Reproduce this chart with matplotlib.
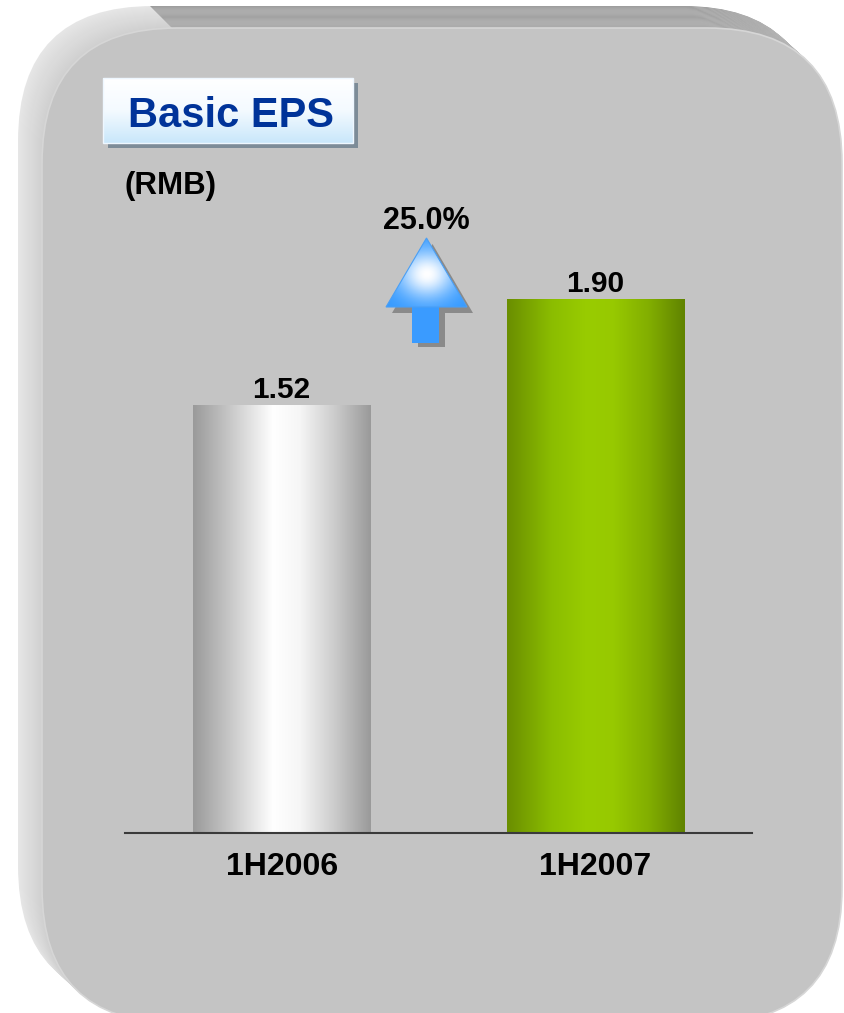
import numpy as np
import matplotlib
matplotlib.use("Agg")
import matplotlib.pyplot as plt
import matplotlib.colors as mcolors
from matplotlib.patches import FancyBboxPatch, Polygon, Rectangle
from matplotlib.colors import LinearSegmentedColormap

plt.rcParams['font.family'] = ['Liberation Sans', 'DejaVu Sans']

# ---- data ----
categories = ['1H2006', '1H2007']
eps_values = [1.52, 1.90]
value_labels = ['1.52', '1.90']
title_text = 'Basic EPS'
unit_text = '(RMB)'

W, H = 844, 1013
fig = plt.figure(figsize=(W / 100, H / 100), dpi=100)
fig.patch.set_facecolor('white')

# background layer in pixel coordinates
bg = fig.add_axes([0, 0, 1, 1])
bg.set_xlim(0, W)
bg.set_ylim(H, 0)
bg.axis('off')


def rounded(x, y, w, h, r, **kw):
    return FancyBboxPatch((x, y), w, h,
                          boxstyle=f"round,pad=0,rounding_size={r}", **kw)


def blend(c1, c2, t):
    a = np.array(mcolors.to_rgb(c1))
    b = np.array(mcolors.to_rgb(c2))
    return tuple(a * (1 - t) + b * t)


# ---- extruded rounded panel ----
fx, fy, fw, fh, R = 42, 28, 800, 995, 135
ddx, ddy = -24, -22
steps = 24
clip_top = Polygon([(44, -100), (2000, -100), (2000, 1856)],
                   closed=True, transform=bg.transData)
for i in range(steps, -1, -1):
    t = i / steps
    ox, oy = fx + ddx * t, fy + ddy * t
    p = rounded(ox, oy, fw, fh, R, fc=blend('#cfcfcf', '#e6e6e6', t),
                ec='none', zorder=1)
    bg.add_patch(p)
    q = rounded(ox, oy, fw, fh, R, fc=blend('#a6a6a6', '#999999', t),
                ec='none', zorder=1)
    bg.add_patch(q)
    q.set_clip_path(clip_top)

bg.add_patch(rounded(fx, fy, fw, fh, R, fc='#c4c4c4', ec='#d6d6d6',
                     lw=1.2, zorder=2))

# ---- title box ----
bx0, bx1, by0, by1 = 103, 353, 78, 143
bg.add_patch(Rectangle((bx0 + 5, by0 + 5), bx1 - bx0, by1 - by0,
                       fc='#7d8c98', ec='none', zorder=3))
box = Rectangle((bx0, by0), bx1 - bx0, by1 - by0, fc='none',
                ec='#eef7ff', lw=1.0, zorder=5)
bg.add_patch(box)
box_cmap = LinearSegmentedColormap.from_list(
    'box', ['#ffffff', '#f4faff', '#c9e7fb'])
bg.imshow(np.linspace(0, 1, 128)[:, None], cmap=box_cmap,
          extent=[bx0, bx1, by1, by0], origin='upper', aspect='auto',
          zorder=4, clip_path=box)
bg.text(231, 127, title_text, ha='center', va='baseline',
        fontsize=30, fontweight='bold', color='#003399', zorder=6)
bg.text(124, 194, unit_text, ha='left', va='baseline',
        fontsize=22.5, fontweight='bold', color='black', zorder=6)

# ---- growth arrow ----
tri = [(386, 307), (467, 307), (426.5, 238)]
sh = 6
bg.add_patch(Polygon([(x + sh, y + sh) for x, y in tri], closed=True,
                     fc='#8a8a8a', ec='none', zorder=3))
bg.add_patch(Rectangle((412 + sh, 307 + sh), 27, 36 - 2,
                       fc='#8a8a8a', ec='none', zorder=3))
bg.add_patch(Rectangle((412, 300), 27, 43, fc='#3a9bff', ec='none',
                       zorder=4))
tri_patch = Polygon(tri, closed=True, fc='none', ec='#4a9ff5', lw=0.8,
                    zorder=5)
bg.add_patch(tri_patch)
gx = np.linspace(386, 467, 120)
gy = np.linspace(238, 307, 120)
GX, GY = np.meshgrid(gx, gy)
d2 = ((GX - 427) / 28) ** 2 + ((GY - 274) / 24) ** 2
wgt = np.exp(-d2)[..., None]
blue = np.array(mcolors.to_rgb('#3399ff'))
img = blue * (1 - wgt) + np.ones(3) * wgt
bg.imshow(img, extent=[386, 467, 307, 238], origin='upper', aspect='auto',
          zorder=4, clip_path=tri_patch, interpolation='bilinear')

growth = (eps_values[1] / eps_values[0] - 1) * 100
bg.text(426, 229, f"{growth:.1f}%", ha='center', va='baseline',
        fontsize=22, fontweight='bold', color='black', zorder=6)
bg.set_xlim(0, W)
bg.set_ylim(H, 0)

# ---- bar chart ----
px_per_unit = 281
base_px = 833
ymax = 2.5
ax = fig.add_axes([125 / W, (H - base_px) / H, 627 / W,
                   ymax * px_per_unit / H])
ax.patch.set_alpha(0)
ax.set_xlim(-0.5, 1.5)
ax.set_ylim(0, ymax)

x = np.arange(len(categories))
bars = ax.bar(x, eps_values, width=0.566, color='none', edgecolor='none',
              zorder=2)

silver = LinearSegmentedColormap.from_list(
    'silver', [(0.0, '#9a9a9a'), (0.2, '#c6c6c6'), (0.45, '#ffffff'),
               (0.6, '#f6f6f6'), (0.8, '#cbcbcb'), (1.0, '#9a9a9a')])
green = LinearSegmentedColormap.from_list(
    'green', [(0.0, '#6a8e00'), (0.25, '#8bbd00'), (0.45, '#99cc00'),
              (0.6, '#97c900'), (0.8, '#82ae00'), (1.0, '#608300')])
grad = np.linspace(0, 1, 256)[None, :]
for bar, cmap in zip(bars, [silver, green]):
    x0 = bar.get_x()
    x1 = x0 + bar.get_width()
    ax.imshow(grad, cmap=cmap, extent=[x0, x1, 0, bar.get_height()],
              aspect='auto', zorder=2, clip_path=bar,
              interpolation='bilinear')

for bar, lab in zip(bars, value_labels):
    ax.annotate(lab, (bar.get_x() + bar.get_width() / 2, bar.get_height()),
                xytext=(0, 1), textcoords='offset points', ha='center',
                va='bottom', fontsize=21.5, fontweight='bold')

ax.set_xlim(-0.5, 1.5)
ax.set_ylim(0, ymax)
ax.set_xticks(x, categories)
ax.set_yticks([])
ax.tick_params(axis='x', length=0, pad=14, labelsize=23)
for t in ax.get_xticklabels():
    t.set_fontweight('bold')
for s in ['top', 'left', 'right']:
    ax.spines[s].set_visible(False)
ax.spines['bottom'].set_color('#3a3a3a')
ax.spines['bottom'].set_linewidth(1.5)

fig.savefig('out.png', dpi=100)
